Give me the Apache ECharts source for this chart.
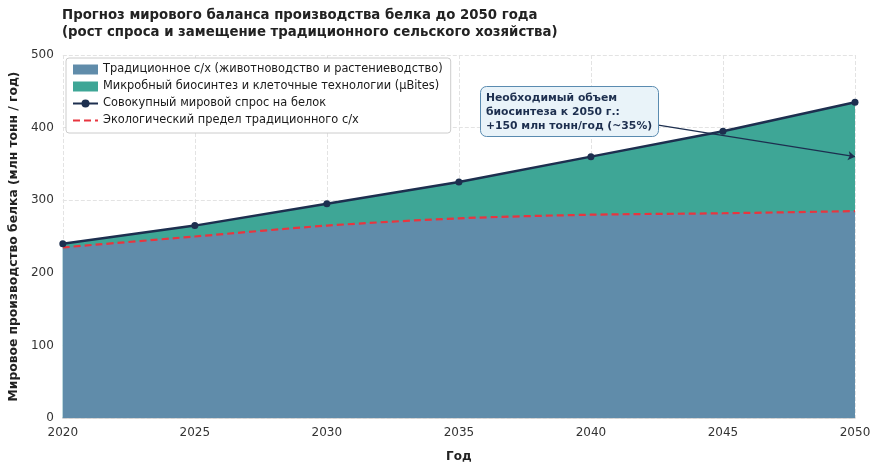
<!DOCTYPE html>
<html lang="ru">
<head>
    <meta charset="UTF-8">
    <title>Прогноз мирового баланса производства белка</title>
    <script type="text/javascript" src="https://cdn.jsdelivr.net/npm/echarts@6/dist/echarts.min.js"></script>
    <style>
        html, body { margin: 0; padding: 0; background: #fff; }
    </style>
</head>
<body>
<div id="chart" style="width: 877px;height: 470px"></div>
<script type="text/javascript">
    // данные
    var years = [2020, 2025, 2030, 2035, 2040, 2045, 2050];
    var traditional = [235, 250, 265, 275, 280, 282, 285];
    var microbial = [5, 15, 30, 50, 80, 113, 150];
    var demand = [240, 265, 295, 325, 360, 395, 435];
    var ecoLimit = [235, 250, 265, 275, 280, 282, 285];
    var yTicks = [0, 100, 200, 300, 400, 500];

    function pairs(values) {
        var out = [];
        for (var i = 0; i < years.length; i++) {
            out.push([years[i], values[i]]);
        }
        return out;
    }
    // верх бирюзовой области = традиционное + микробное
    var microbialTop = [];
    for (var i = 0; i < years.length; i++) {
        microbialTop.push(traditional[i] + microbial[i]);
    }

    var chartDom = document.getElementById('chart');
    var myChart = echarts.init(chartDom);
    var font = 'DejaVu Sans';
    var dark = '#1d2f4f';

    var option = {
        backgroundColor: '#ffffff',
        animation: false,
        textStyle: { fontFamily: font },
        title: {
            text: 'Прогноз мирового баланса производства белка до 2050 года\n(рост спроса и замещение традиционного сельского хозяйства)',
            left: 57,
            top: 2,
            textStyle: {
                fontFamily: font,
                fontSize: 13.3,
                fontWeight: 'bold',
                color: '#222',
                lineHeight: 17
            }
        },
        grid: {
            left: 61,
            right: 22,
            top: 55,
            bottom: 52
        },
        legend: {
            orient: 'vertical',
            left: 66,
            top: 58,
            backgroundColor: '#ffffff',
            borderColor: '#cccccc',
            borderWidth: 1,
            borderRadius: 3,
            padding: [6, 8, 7, 6],
            itemGap: 6,
            itemWidth: 25,
            itemHeight: 10,
            textStyle: { fontFamily: font, fontSize: 11.4, color: '#1a1a1a' },
            data: [
                { name: 'Традиционное с/х (животноводство и растениеводство)', icon: 'rect' },
                { name: 'Микробный биосинтез и клеточные технологии (µBites)', icon: 'rect' },
                { name: 'Совокупный мировой спрос на белок' },
                { name: 'Экологический предел традиционного с/х', itemStyle: { opacity: 0 } }
            ]
        },
        xAxis: {
            type: 'value',
            min: 2020,
            max: 2050,
            interval: 5,
            name: 'Год',
            nameLocation: 'middle',
            nameGap: 33,
            nameTextStyle: { fontFamily: font, fontSize: 12, fontWeight: 'bold', color: '#222' },
            axisLine: { show: true, lineStyle: { color: '#cccccc', width: 1.5 } },
            axisTick: { show: false },
            axisLabel: {
                fontFamily: font,
                fontSize: 12,
                color: '#333',
                margin: 9,
                formatter: function (v) { return String(v); }
            },
            splitLine: { show: true, lineStyle: { color: '#e3e3e3', type: 'dashed' } }
        },
        yAxis: {
            type: 'value',
            min: yTicks[0],
            max: yTicks[yTicks.length - 1],
            interval: 100,
            name: 'Мировое производство белка (млн тонн / год)',
            nameLocation: 'middle',
            nameGap: 41,
            nameTextStyle: { fontFamily: font, fontSize: 12.3, fontWeight: 'bold', color: '#222' },
            axisLine: { show: false },
            axisTick: { show: false },
            axisLabel: { fontFamily: font, fontSize: 12, color: '#333', margin: 9 },
            splitLine: { show: true, lineStyle: { color: '#e3e3e3', type: 'dashed' } }
        },
        series: [
            {
                name: 'Микробный биосинтез и клеточные технологии (µBites)',
                type: 'line',
                symbol: 'none',
                data: pairs(microbialTop),
                color: '#3ea696',
                lineStyle: { width: 0 },
                areaStyle: { color: '#3ea696', opacity: 1 },
                z: 1
            },
            {
                name: 'Традиционное с/х (животноводство и растениеводство)',
                type: 'line',
                smooth: 0.3,
                symbol: 'none',
                data: pairs(traditional),
                color: '#608caa',
                lineStyle: { width: 0 },
                areaStyle: { color: '#608caa', opacity: 1 },
                z: 2
            },
            {
                name: 'Экологический предел традиционного с/х',
                type: 'line',
                smooth: 0.3,
                symbol: 'none',
                data: pairs(ecoLimit),
                color: '#e8353f',
                lineStyle: { color: '#e8353f', width: 2.2, type: [7, 4] },
                z: 3
            },
            {
                name: 'Совокупный мировой спрос на белок',
                type: 'line',
                symbol: 'circle',
                symbolSize: 7,
                data: pairs(demand),
                color: dark,
                lineStyle: { color: dark, width: 2.5 },
                itemStyle: { color: dark },
                z: 4,
                markLine: {
                    silent: true,
                    symbol: ['none', 'arrow'],
                    symbolSize: 7,
                    label: { show: false },
                    lineStyle: { color: dark, width: 1.3, type: 'solid' },
                    data: [
                        [
                            { coord: [2042.55, 403.5] },
                            { coord: [2050, 360] }
                        ]
                    ]
                }
            }
        ],
        graphic: [
            {
                type: 'rect',
                left: 480,
                top: 86,
                z: 100,
                shape: { x: 0, y: 0, width: 178, height: 50, r: 6 },
                style: { fill: '#e9f3f9', stroke: '#5a8bb0', lineWidth: 1 }
            },
            {
                type: 'text',
                left: 486,
                top: 91,
                z: 101,
                style: {
                    text: 'Необходимый объем\nбиосинтеза к 2050 г.:\n+150 млн тонн/год (~35%)',
                    font: 'bold 10.8px "DejaVu Sans"',
                    fill: dark,
                    lineHeight: 14
                }
            }
        ]
    };
    option && myChart.setOption(option);
</script>
</body>
</html>
